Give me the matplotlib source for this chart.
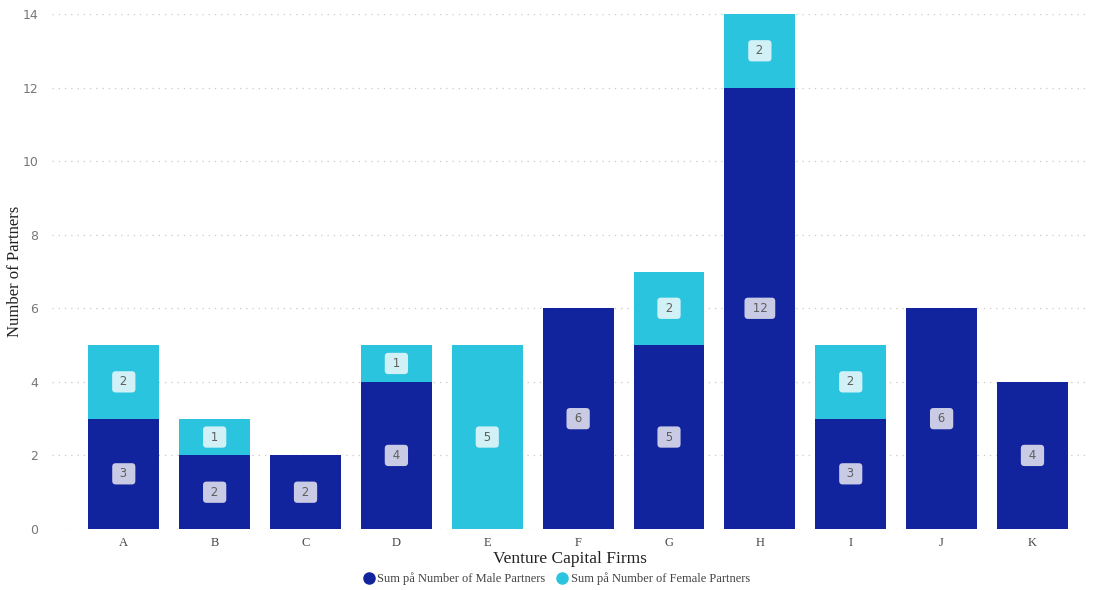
import numpy as np
import matplotlib.pyplot as plt

firms = ["A", "B", "C", "D", "E", "F", "G", "H", "I", "J", "K"]
male = [3, 2, 2, 4, 0, 6, 5, 12, 3, 6, 4]
female = [2, 1, 0, 1, 5, 0, 2, 2, 2, 0, 0]

MALE_COLOR = "#12239E"
FEMALE_COLOR = "#2BC4DE"
GREY = "#605E5C"

fig = plt.figure(figsize=(10.97, 5.90), dpi=100)
ax = fig.add_axes([52 / 1097, 61 / 590, 1035 / 1097, 515 / 590])

x = np.arange(len(firms))
width = 0.78
ax.bar(x, male, width, color=MALE_COLOR, zorder=2, label="Sum på Number of Male Partners")
ax.bar(x, female, width, bottom=male, color=FEMALE_COLOR, zorder=2,
       label="Sum på Number of Female Partners")


# value labels in small rounded boxes, centred in each segment
def add_labels(values, bottoms, boxcolor):
    for xi, v, b in zip(x, values, bottoms):
        if v == 0:
            continue
        ax.text(xi, b + v / 2, f" {v} ", ha="center", va="center", fontsize=8.5,
                color=GREY, family="DejaVu Sans", zorder=3,
                bbox=dict(boxstyle="round,pad=0.35,rounding_size=0.3",
                          fc=boxcolor, ec="none"))


add_labels(male, [0] * len(male), "#C9CBE4")
add_labels(female, male, "#D2F1F7")

ax.set_xlim(-0.79, 10.6)
ax.set_ylim(0, 14)
ax.set_yticks(range(0, 15, 2))
ax.set_xticks(x)
ax.set_xticklabels(firms, family="Liberation Serif", fontsize=9, color="#444444")
ax.tick_params(axis="y", labelsize=9, labelcolor="#777777", length=0, pad=10)
ax.tick_params(axis="x", length=0, pad=6)

ax.grid(axis="y", linestyle=(0, (1, 4)), color="#C8C8C8", linewidth=0.9, zorder=0)
for s in ax.spines.values():
    s.set_visible(False)

ax.set_xlabel("Venture Capital Firms", family="Liberation Serif", fontsize=12.5,
              color="#222222", labelpad=1)
ax.set_ylabel("Number of Partners", family="Liberation Serif", fontsize=12,
              color="#222222")
ax.yaxis.set_label_coords(-0.028, 0.5)

handles = [
    plt.Line2D([], [], marker="o", linestyle="", markersize=8, color=MALE_COLOR),
    plt.Line2D([], [], marker="o", linestyle="", markersize=8, color=FEMALE_COLOR),
]
fig.legend(handles, ["Sum på Number of Male Partners", "Sum på Number of Female Partners"],
           loc="center", bbox_to_anchor=(553 / 1097, 1 - 579 / 590), ncol=2, frameon=False,
           prop={"family": "Liberation Serif", "size": 9}, handletextpad=-0.3,
           columnspacing=0.3, labelcolor="#444444")

fig.savefig("out.png", dpi=100)
